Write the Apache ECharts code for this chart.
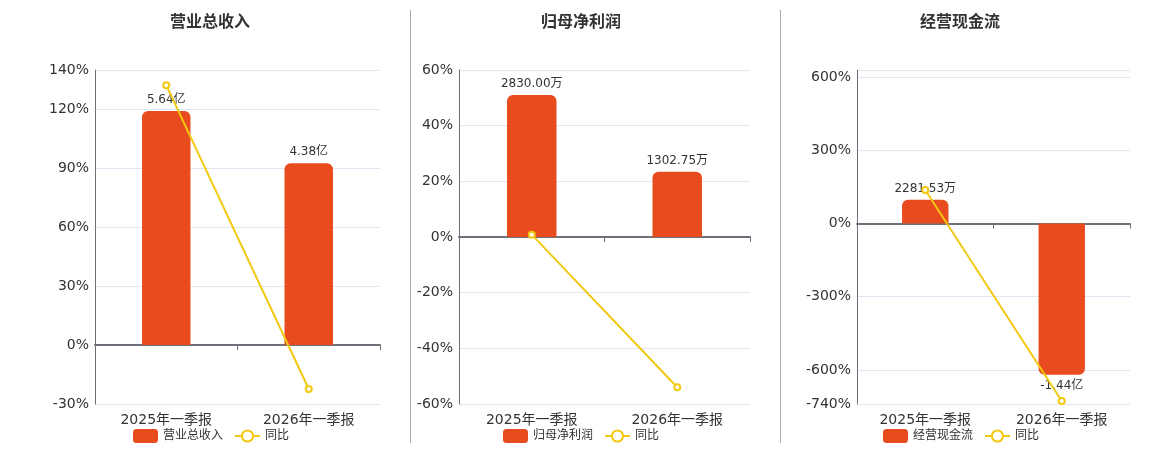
<!DOCTYPE html>
<html>
<head>
<meta charset="utf-8">
<script src="https://cdn.jsdelivr.net/npm/echarts@6/dist/echarts.min.js"></script>
<style>
  html, body { margin: 0; padding: 0; background: #fff; }
  #chart { width: 1160px; height: 450px; }
</style>
</head>
<body>
<div id="chart"></div>
<script>
// ---- data ----
const categories = ['2025年一季报', '2026年一季报'];
const panelTitles = ['营业总收入', '归母净利润', '经营现金流'];
const yoyName = '同比';
// bar values in 万元
const revenueValues = [56400, 43800];
const profitValues = [2830, 1302.75];
const cashValues = [2281.53, -14400];
// year-on-year growth, %
const revenueYoY = [132.3, -22.34];
const profitYoY = [0.85, -53.97];
const cashYoY = [137.9, -728];
// percentage axis ranges
const pctMin = [-30, -60, -740];
const pctMax = [140, 60, 630];
const pctInterval = [30, 20, null];

// ---- layout / style ----
const FONT = "'DejaVu Sans', 'Noto Sans CJK SC', sans-serif";
const BAR_COLOR = '#E84C1E';
const LINE_COLOR = '#F2C811';
const grids = [
  { left: 95, top: 70, width: 285, height: 334 },
  { left: 459, top: 70, width: 291, height: 334 },
  { left: 857, top: 70, width: 273, height: 334 }
];
const titleCenters = [210, 581, 960];
const legendLefts = [133, 503, 883];
// units of the bar axis per percent on the visible axis (aligns zero)
const unitsPerPct = [56400 / 119.1, 2830 / 51.0, 2281.53 / 98.2];

function fmtAmount(v) {
  if (Math.abs(v) >= 10000) return (v / 10000).toFixed(2) + '亿';
  return v.toFixed(2) + '万';
}

const barSets = [revenueValues, profitValues, cashValues];
const yoySets = [revenueYoY, profitYoY, cashYoY];

const option = {
  animation: false,
  backgroundColor: '#fff',
  textStyle: { fontFamily: FONT },
  title: [], legend: [], grid: [], xAxis: [], yAxis: [], series: [],
  graphic: [
    { type: 'line', shape: { x1: 410.5, y1: 10, x2: 410.5, y2: 443 }, style: { stroke: '#aaaaaa', lineWidth: 1 } },
    { type: 'line', shape: { x1: 780.5, y1: 10, x2: 780.5, y2: 443 }, style: { stroke: '#aaaaaa', lineWidth: 1 } }
  ]
};

for (let i = 0; i < 3; i++) {
  option.title.push({
    text: panelTitles[i], left: titleCenters[i], top: 15, textAlign: 'center', padding: 0,
    textStyle: { fontSize: 16, fontWeight: 'bold', color: '#333', fontFamily: FONT }
  });
  option.legend.push({
    left: legendLefts[i], top: 429, padding: 0, itemWidth: 25, itemHeight: 14, itemGap: 11,
    textStyle: { fontSize: 12, color: '#333', fontFamily: FONT },
    data: [{ name: panelTitles[i], icon: 'roundRect' }, { name: yoyName }]
  });
  option.grid.push(Object.assign({ containLabel: false }, grids[i]));
  // zero-line axis (carries marks)
  option.xAxis.push({
    type: 'category', gridIndex: i, data: categories, boundaryGap: true,
    axisLine: { show: true, onZero: true, onZeroAxisIndex: 2 * i, lineStyle: { color: '#6E7079', width: 2 } },
    axisTick: { show: true, length: 5, lineStyle: { color: '#6E7079' } },
    axisLabel: { show: false }, splitLine: { show: false }
  });
  // bottom label axis
  option.xAxis.push({
    type: 'category', gridIndex: i, data: categories, position: 'bottom',
    axisLine: { show: false, onZero: false }, axisTick: { show: false },
    axisLabel: { show: true, fontSize: 14, color: '#333', margin: 9, fontFamily: FONT },
    splitLine: { show: false }
  });
  const py = {
    type: 'value', gridIndex: i, min: pctMin[i], max: pctMax[i],
    axisLine: { show: true, lineStyle: { color: '#6E7079', width: 1 } },
    axisTick: { show: false },
    axisLabel: { fontSize: 14, color: '#333', margin: 6, fontFamily: FONT, formatter: '{value}%' },
    splitLine: { show: true, lineStyle: { color: '#E0E6F1' } }
  };
  if (pctInterval[i] !== null) py.interval = pctInterval[i];
  if (i === 2) { py.splitNumber = 5; py.axisLabel.showMaxLabel = false; }
  option.yAxis.push(py);
  option.yAxis.push({
    type: 'value', gridIndex: i, show: false,
    min: pctMin[i] * unitsPerPct[i], max: pctMax[i] * unitsPerPct[i],
    splitLine: { show: false }
  });
  option.series.push({
    name: panelTitles[i], type: 'bar', xAxisIndex: 2 * i, yAxisIndex: 2 * i + 1,
    barWidth: '34%',
    data: barSets[i].map(v => ({ value: v, itemStyle: { borderRadius: v < 0 ? [0, 0, 6, 6] : [6, 6, 0, 0] } })),
    itemStyle: { color: BAR_COLOR },
    label: { show: true, position: 'outside', distance: 5, fontSize: 12, color: '#333', fontFamily: FONT,
      formatter: p => fmtAmount(p.value) }
  });
  option.series.push({
    name: yoyName, type: 'line', xAxisIndex: 2 * i, yAxisIndex: 2 * i,
    data: yoySets[i], symbol: 'emptyCircle', symbolSize: 6, z: 5,
    lineStyle: { color: LINE_COLOR, width: 2 }, itemStyle: { color: LINE_COLOR, borderWidth: 2 }
  });
}

const chart = echarts.init(document.getElementById('chart'));
chart.setOption(option);
</script>
</body>
</html>
